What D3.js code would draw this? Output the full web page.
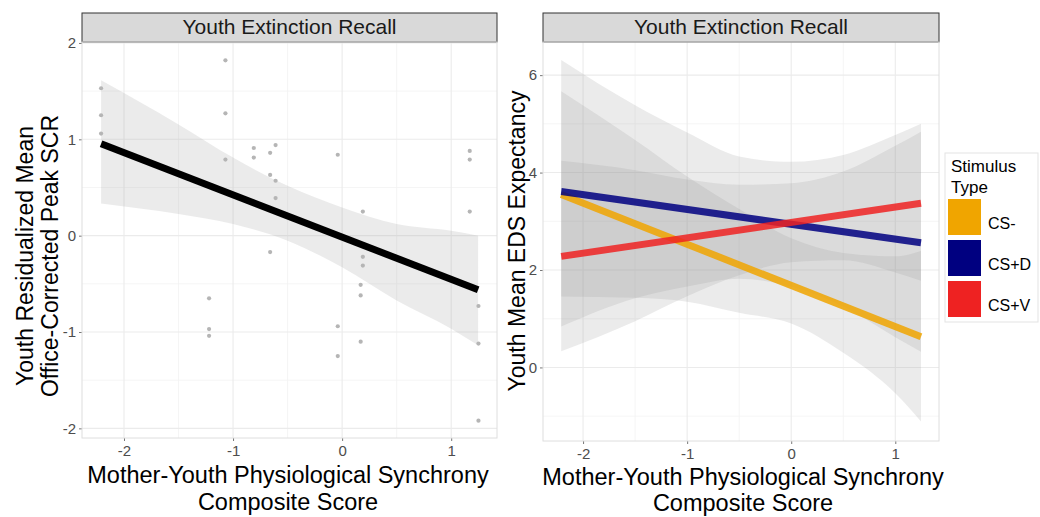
<!DOCTYPE html>
<html>
<head>
<meta charset="utf-8">
<script src="https://cdn.jsdelivr.net/npm/d3@7"></script>
<style>
  body { margin: 0; background: #fff; }
  text { font-family: "Liberation Sans", Arial, Helvetica, sans-serif; }
</style>
</head>
<body>
<div id="chart"></div>
<script>
// ---- data ----
// left panel: points
var synchrony = [-2.21, -2.21, -2.21, -1.07, -1.07, -1.07, -1.22, -1.22, -1.22,
  -0.81, -0.81, -0.66, -0.61, -0.66, -0.61, -0.61, -0.66,
  -0.04, -0.04, -0.04, 0.19, 0.19, 0.19, 0.17, 0.17, 0.17,
  1.17, 1.17, 1.17, 1.25, 1.25, 1.25];
var scrResid = [1.53, 1.25, 1.06, 1.82, 1.27, 0.79, -0.65, -0.97, -1.04,
  0.91, 0.81, 0.86, 0.94, 0.63, 0.57, 0.39, -0.17,
  0.84, -0.94, -1.25, 0.25, -0.22, -0.31, -0.51, -0.62, -1.10,
  0.88, 0.79, 0.25, -0.73, -1.12, -1.92];

// left panel: fitted line and its band
var fitX = [-2.21, 1.247];
var fitSCR = [0.955, -0.562];
var bandX = [-2.21, -1.5, -1, -0.5, 0, 0.5, 1, 1.247];
var scrUpper = [1.613, 1.155, 0.810, 0.517, 0.293, 0.121, 0.05, 0.0];
var scrLower = [0.334, 0.224, 0.121, -0.052, -0.328, -0.672, -0.965, -1.138];

// right panel: one line and band per stimulus type
var stimTypes = ["CS-", "CS+D", "CS+V"];
var stimColors = ["#F0A500", "#000080", "#EE2222"];
var edsFit = [[3.55, 0.63], [3.61, 2.56], [2.28, 3.37]];
var edsUpper = [
  [5.67, 4.67, 3.92, 3.25, 2.65, 2.35, 2.28, 2.39],
  [6.31, 5.38, 4.82, 4.33, 4.22, 4.36, 4.77, 5.0],
  [4.24, 4.05, 3.86, 3.75, 3.78, 4.02, 4.55, 4.84]
];
var edsLower = [
  [1.455, 1.43, 1.35, 1.12, 0.90, 0.30, -0.53, -1.11],
  [0.84, 1.42, 1.66, 1.82, 1.66, 1.25, 0.62, 0.32],
  [0.33, 0.95, 1.46, 1.89, 2.16, 2.20, 1.95, 1.78]
];

// tick labels
var xTicks = [-2, -1, 0, 1];
var xMinor = [-1.5, -0.5, 0.5];
var yTicksL = [-2, -1, 0, 1, 2];
var yMinorL = [-1.5, -0.5, 0.5, 1.5];
var yTicksR = [0, 2, 4, 6];
var yMinorR = [-1, 1, 3, 5];

var svg = d3.select("#chart").append("svg")
  .attr("width", 1040)
  .attr("height", 517);

// scales
var xL = d3.scaleLinear().domain([-2.385, 1.42]).range([82, 497]);
var yL = d3.scaleLinear().domain([-2.10, 2.01]).range([438, 42]);
var xR = d3.scaleLinear().domain([-2.385, 1.42]).range([543, 939]);
var yR = d3.scaleLinear().domain([-1.51, 6.68]).range([441, 42]);

// draws background, grid, strip and axes of one panel
function panelFrame(x, y, yTicks, yMinor) {
  var x0 = x.range()[0], x1 = x.range()[1];
  var y0 = y.range()[1], y1 = y.range()[0];
  var g = svg.append("g");
  g.append("rect").attr("x", x0).attr("y", y0).attr("width", x1 - x0).attr("height", y1 - y0)
    .attr("fill", "#fff");
  // minor grid
  g.selectAll(".mx").data(xMinor).enter().append("line")
    .attr("x1", function(d) { return x(d); }).attr("x2", function(d) { return x(d); })
    .attr("y1", y0).attr("y2", y1)
    .attr("stroke", "#F2F2F2").attr("stroke-width", 0.8);
  g.selectAll(".my").data(yMinor).enter().append("line")
    .attr("y1", function(d) { return y(d); }).attr("y2", function(d) { return y(d); })
    .attr("x1", x0).attr("x2", x1)
    .attr("stroke", "#F2F2F2").attr("stroke-width", 0.8);
  // major grid
  g.selectAll(".gx").data(xTicks).enter().append("line")
    .attr("x1", function(d) { return x(d); }).attr("x2", function(d) { return x(d); })
    .attr("y1", y0).attr("y2", y1)
    .attr("stroke", "#EBEBEB").attr("stroke-width", 1.1);
  g.selectAll(".gy").data(yTicks).enter().append("line")
    .attr("y1", function(d) { return y(d); }).attr("y2", function(d) { return y(d); })
    .attr("x1", x0).attr("x2", x1)
    .attr("stroke", "#EBEBEB").attr("stroke-width", 1.1);

  // strip on top
  svg.append("rect").attr("x", x0).attr("y", 13).attr("width", x1 - x0).attr("height", y0 - 13)
    .attr("fill", "#D9D9D9").attr("stroke", "#333").attr("stroke-width", 1);
  svg.append("text").attr("x", (x0 + x1) / 2).attr("y", 34)
    .attr("text-anchor", "middle").style("font-size", "21px").attr("fill", "#1A1A1A")
    .text("Youth Extinction Recall");

  // axes
  var ax = svg.append("g").attr("transform", "translate(0," + y1 + ")")
    .call(d3.axisBottom(x).tickValues(xTicks).tickSize(3).tickPadding(4).tickFormat(d3.format("d")));
  var ay = svg.append("g").attr("transform", "translate(" + x0 + ",0)")
    .call(d3.axisLeft(y).tickValues(yTicks).tickSize(3).tickPadding(3).tickFormat(d3.format("d")));
  [ax, ay].forEach(function(a) {
    a.select(".domain").remove();
    a.selectAll("line").attr("stroke", "#555").attr("stroke-width", 0.8);
    a.selectAll("text").attr("fill", "#4D4D4D").style("font-size", "15px")
      .style("font-family", "'Liberation Sans', Arial, sans-serif");
  });
  ax.selectAll("text").text(function(d) { return d < 0 ? "-" + Math.abs(d) : d; });
  ay.selectAll("text").text(function(d) { return d < 0 ? "-" + Math.abs(d) : d; });
  return g;
}

function border(x, y) {
  var x0 = x.range()[0], x1 = x.range()[1];
  var y0 = y.range()[1], y1 = y.range()[0];
  svg.append("rect").attr("x", x0).attr("y", y0).attr("width", x1 - x0).attr("height", y1 - y0)
    .attr("fill", "none").attr("stroke", "#DEDEDE").attr("stroke-width", 1);
}

// ---------- left panel ----------
var gL = panelFrame(xL, yL, yTicksL, yMinorL);

var bandL = bandX.map(function(d, i) { return {x: d, hi: scrUpper[i], lo: scrLower[i]}; });
gL.append("path").datum(bandL)
  .attr("fill", "#999").attr("fill-opacity", 0.2)
  .attr("d", d3.area().curve(d3.curveMonotoneX)
    .x(function(d) { return xL(d.x); })
    .y0(function(d) { return yL(d.lo); })
    .y1(function(d) { return yL(d.hi); }));

gL.selectAll("circle").data(synchrony).enter().append("circle")
  .attr("cx", function(d) { return xL(d); })
  .attr("cy", function(d, i) { return yL(scrResid[i]); })
  .attr("r", 2.1)
  .attr("fill", "#B5B5B5");

gL.append("path").datum(fitX)
  .attr("fill", "none").attr("stroke", "#000").attr("stroke-width", 7)
  .attr("d", d3.line()
    .x(function(d) { return xL(d); })
    .y(function(d, i) { return yL(fitSCR[i]); }));

border(xL, yL);

// ---------- right panel ----------
var gR = panelFrame(xR, yR, yTicksR, yMinorR);

stimTypes.forEach(function(s, k) {
  var b = bandX.map(function(d, i) { return {x: d, hi: edsUpper[k][i], lo: edsLower[k][i]}; });
  gR.append("path").datum(b)
    .attr("fill", "#999").attr("fill-opacity", 0.2)
    .attr("d", d3.area().curve(d3.curveMonotoneX)
      .x(function(d) { return xR(d.x); })
      .y0(function(d) { return yR(d.lo); })
      .y1(function(d) { return yR(d.hi); }));
});

stimTypes.forEach(function(s, k) {
  gR.append("path").datum(fitX)
    .attr("fill", "none").attr("stroke", stimColors[k]).attr("stroke-width", 7)
    .attr("stroke-opacity", 0.85)
    .attr("d", d3.line()
      .x(function(d) { return xR(d); })
      .y(function(d, i) { return yR(edsFit[k][i]); }));
});

border(xR, yR);

// ---------- axis titles ----------
svg.append("text").attr("transform", "translate(33,256) rotate(-90)")
  .attr("text-anchor", "middle").style("font-size", "23px").text("Youth Residualized Mean");
svg.append("text").attr("transform", "translate(58,256) rotate(-90)")
  .attr("text-anchor", "middle").style("font-size", "23px").text("Office-Corrected Peak SCR");
svg.append("text").attr("transform", "translate(525,241) rotate(-90)")
  .attr("text-anchor", "middle").style("font-size", "23px").text("Youth Mean EDS Expectancy");

svg.append("text").attr("x", 288).attr("y", 483).attr("text-anchor", "middle")
  .style("font-size", "23.5px").text("Mother-Youth Physiological Synchrony");
svg.append("text").attr("x", 288).attr("y", 510).attr("text-anchor", "middle")
  .style("font-size", "23.5px").text("Composite Score");
svg.append("text").attr("x", 743).attr("y", 485).attr("text-anchor", "middle")
  .style("font-size", "23.5px").text("Mother-Youth Physiological Synchrony");
svg.append("text").attr("x", 743).attr("y", 511).attr("text-anchor", "middle")
  .style("font-size", "23.5px").text("Composite Score");

// ---------- legend ----------
var legend = svg.append("g");
legend.append("rect").attr("x", 945).attr("y", 153).attr("width", 93).attr("height", 169)
  .attr("fill", "#fff").attr("stroke", "#E3E3E3");
legend.append("text").attr("x", 951).attr("y", 172).style("font-size", "17px").text("Stimulus");
legend.append("text").attr("x", 951).attr("y", 193).style("font-size", "17px").text("Type");
legend.selectAll(".key").data(stimTypes).enter().append("rect")
  .attr("x", 948).attr("y", function(d, i) { return 199 + i * 41; })
  .attr("width", 33).attr("height", 36)
  .attr("fill", function(d, i) { return stimColors[i]; });
legend.selectAll(".lab").data(stimTypes).enter().append("text")
  .attr("x", 988).attr("y", function(d, i) { return 229 + i * 41; })
  .style("font-size", "16px")
  .text(function(d) { return d; });
</script>
</body>
</html>
